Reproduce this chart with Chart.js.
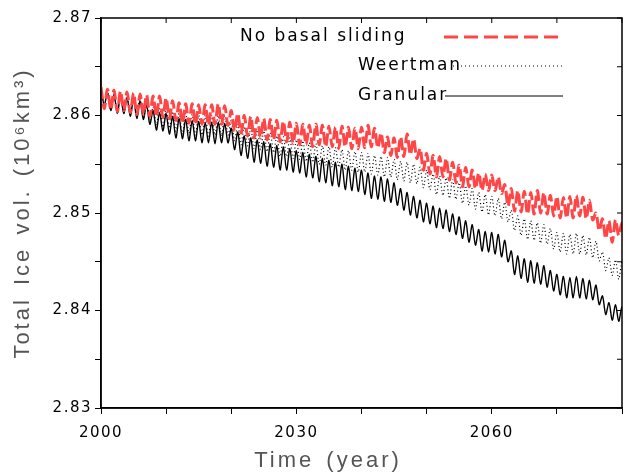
<!DOCTYPE html>
<html>
<head>
<meta charset="utf-8">
<script src="https://cdn.jsdelivr.net/npm/chart.js@4"></script>
<style>
  html, body { margin: 0; padding: 0; background: #fff; }
  #wrap { width: 626px; height: 476px; position: relative; }
</style>
</head>
<body>
<div id="wrap"><canvas id="grafico"></canvas></div>
<script>
// años 2000..2080, un ciclo anual: máximo (pico) y mínimo (valle)
const firstYear = 2000;
const xTickLabels = [2000, 2030, 2060];
const seriesNames = ['No basal sliding', 'Weertman', 'Granular'];
const xTitle = 'Time (year)';
const yTitle = 'Total Ice vol. (10⁶km³)';

const granularPeak = [
  2.8628, 2.8623, 2.8621, 2.8620, 2.8618, 2.8617, 2.8615, 2.8611, 2.8605, 2.8603,
  2.8602, 2.8599, 2.8597, 2.8596, 2.8595, 2.8594, 2.8593, 2.8593, 2.8593, 2.8592,
  2.8587, 2.8583, 2.8579, 2.8577, 2.8575, 2.8573, 2.8571, 2.8569, 2.8568, 2.8566,
  2.8564, 2.8562, 2.8560, 2.8558, 2.8556, 2.8554, 2.8552, 2.8550, 2.8548, 2.8546,
  2.8544, 2.8541, 2.8538, 2.8537, 2.8535, 2.8531, 2.8525, 2.8521, 2.8517, 2.8513,
  2.8510, 2.8507, 2.8505, 2.8503, 2.8499, 2.8496, 2.8492, 2.8488, 2.8483, 2.8481,
  2.8480, 2.8478, 2.8472, 2.8461, 2.8456, 2.8453, 2.8451, 2.8449, 2.8446, 2.8441,
  2.8437, 2.8435, 2.8434, 2.8435, 2.8433, 2.8431, 2.8426, 2.8415, 2.8408, 2.8406,
  2.8404
];
const granularTrough = [
  2.8611, 2.8605, 2.8602, 2.8602, 2.8599, 2.8597, 2.8596, 2.8591, 2.8585, 2.8584,
  2.8581, 2.8577, 2.8576, 2.8574, 2.8574, 2.8572, 2.8572, 2.8571, 2.8572, 2.8572,
  2.8565, 2.8559, 2.8556, 2.8552, 2.8551, 2.8548, 2.8547, 2.8544, 2.8544, 2.8542,
  2.8541, 2.8537, 2.8536, 2.8532, 2.8531, 2.8528, 2.8527, 2.8524, 2.8523, 2.8522,
  2.8519, 2.8515, 2.8514, 2.8512, 2.8511, 2.8508, 2.8503, 2.8498, 2.8495, 2.8491,
  2.8489, 2.8485, 2.8484, 2.8481, 2.8478, 2.8474, 2.8470, 2.8467, 2.8461, 2.8460,
  2.8458, 2.8455, 2.8450, 2.8437, 2.8433, 2.8429, 2.8428, 2.8427, 2.8424, 2.8420,
  2.8416, 2.8413, 2.8413, 2.8413, 2.8412, 2.8411, 2.8406, 2.8396, 2.8390, 2.8389,
  2.8390
];

const weertmanPeak = [
  2.8628, 2.8624, 2.8622, 2.8622, 2.8621, 2.8620, 2.8618, 2.8614, 2.8609, 2.8607,
  2.8607, 2.8604, 2.8602, 2.8602, 2.8601, 2.8600, 2.8600, 2.8600, 2.8600, 2.8600,
  2.8595, 2.8591, 2.8589, 2.8587, 2.8585, 2.8584, 2.8582, 2.8579, 2.8578, 2.8577,
  2.8575, 2.8574, 2.8572, 2.8571, 2.8569, 2.8568, 2.8567, 2.8565, 2.8564, 2.8563,
  2.8562, 2.8561, 2.8559, 2.8558, 2.8557, 2.8555, 2.8553, 2.8552, 2.8550, 2.8547,
  2.8544, 2.8540, 2.8538, 2.8536, 2.8534, 2.8531, 2.8528, 2.8525, 2.8521, 2.8519,
  2.8517, 2.8515, 2.8511, 2.8503, 2.8497, 2.8494, 2.8492, 2.8490, 2.8488, 2.8484,
  2.8480, 2.8479, 2.8478, 2.8479, 2.8477, 2.8475, 2.8471, 2.8460, 2.8454, 2.8452,
  2.8450
];
const weertmanTrough = [
  2.8611, 2.8606, 2.8604, 2.8603, 2.8602, 2.8601, 2.8599, 2.8595, 2.8590, 2.8588,
  2.8587, 2.8584, 2.8581, 2.8582, 2.8580, 2.8580, 2.8579, 2.8580, 2.8579, 2.8580,
  2.8574, 2.8570, 2.8569, 2.8566, 2.8565, 2.8563, 2.8562, 2.8558, 2.8558, 2.8556,
  2.8555, 2.8553, 2.8552, 2.8550, 2.8549, 2.8547, 2.8547, 2.8544, 2.8544, 2.8542,
  2.8542, 2.8540, 2.8539, 2.8537, 2.8537, 2.8534, 2.8533, 2.8531, 2.8530, 2.8526,
  2.8524, 2.8519, 2.8518, 2.8515, 2.8514, 2.8510, 2.8508, 2.8504, 2.8501, 2.8498,
  2.8497, 2.8494, 2.8491, 2.8482, 2.8477, 2.8473, 2.8472, 2.8469, 2.8468, 2.8463,
  2.8460, 2.8458, 2.8458, 2.8458, 2.8457, 2.8454, 2.8451, 2.8441, 2.8436, 2.8432,
  2.8434
];

const noSlidePeak = [
  2.8629, 2.8627, 2.8626, 2.8625, 2.8624, 2.8623, 2.8622, 2.8621, 2.8620, 2.8620,
  2.8618, 2.8615, 2.8613, 2.8612, 2.8612, 2.8611, 2.8611, 2.8611, 2.8612, 2.8610,
  2.8605, 2.8602, 2.8600, 2.8599, 2.8598, 2.8597, 2.8596, 2.8595, 2.8594, 2.8593,
  2.8592, 2.8591, 2.8590, 2.8591, 2.8590, 2.8589, 2.8588, 2.8589, 2.8588, 2.8587,
  2.8588, 2.8590, 2.8587, 2.8582, 2.8578, 2.8577, 2.8578, 2.8581, 2.8576, 2.8566,
  2.8561, 2.8559, 2.8558, 2.8556, 2.8552, 2.8549, 2.8547, 2.8544, 2.8541, 2.8540,
  2.8539, 2.8537, 2.8529, 2.8525, 2.8523, 2.8522, 2.8521, 2.8523, 2.8521, 2.8518,
  2.8517, 2.8516, 2.8517, 2.8518, 2.8516, 2.8513, 2.8500, 2.8494, 2.8492, 2.8493,
  2.8490
];
const noSlideTrough = [
  2.8607, 2.8606, 2.8604, 2.8605, 2.8603, 2.8601, 2.8601, 2.8599, 2.8599, 2.8598,
  2.8597, 2.8595, 2.8592, 2.8592, 2.8591, 2.8591, 2.8590, 2.8591, 2.8591, 2.8590,
  2.8584, 2.8582, 2.8579, 2.8577, 2.8577, 2.8575, 2.8575, 2.8573, 2.8573, 2.8571,
  2.8570, 2.8570, 2.8568, 2.8570, 2.8568, 2.8568, 2.8566, 2.8568, 2.8566, 2.8566,
  2.8567, 2.8568, 2.8567, 2.8562, 2.8559, 2.8557, 2.8558, 2.8560, 2.8556, 2.8544,
  2.8540, 2.8537, 2.8537, 2.8534, 2.8531, 2.8527, 2.8527, 2.8525, 2.8523, 2.8523,
  2.8523, 2.8520, 2.8507, 2.8502, 2.8501, 2.8499, 2.8499, 2.8500, 2.8499, 2.8497,
  2.8495, 2.8495, 2.8495, 2.8497, 2.8494, 2.8493, 2.8482, 2.8474, 2.8470, 2.8477,
  2.8478
];

// pico al inicio del año, valle a mitad de año
function armarSerie(picos, valles) {
  const puntos = [];
  for (let i = 0; i < picos.length; i++) {
    puntos.push({ x: firstYear + i, y: picos[i] });
    puntos.push({ x: firstYear + i + 0.5, y: valles[i] });
  }
  return puntos;
}

const FUENTE = 'DejaVu Sans';
const FUENTE_TIT = 'Liberation Sans';
const ROJO = '#ff4545';

// marco, marcas interiores, títulos de ejes y leyenda dentro del gráfico
const extras = {
  id: 'extras',
  beforeDraw(chart) {
    chart.ctx.letterSpacing = '1.5px';
  },
  afterDraw(chart) {
    const ctx = chart.ctx;
    const a = chart.chartArea;
    const ys = chart.scales.y;
    const xs = chart.scales.x;
    ctx.save();
    ctx.strokeStyle = '#000';
    ctx.lineWidth = 1.5;
    ctx.strokeRect(a.left, a.top, a.right - a.left, a.bottom - a.top);
    ctx.lineWidth = 1;
    ctx.beginPath();
    ys.ticks.forEach(t => {
      const py = ys.getPixelForValue(t.value);
      ctx.moveTo(a.right, py);
      ctx.lineTo(a.right - 5, py);
    });
    xs.ticks.forEach(t => {
      const px = xs.getPixelForValue(t.value);
      ctx.moveTo(px, a.top);
      ctx.lineTo(px, a.top + 5);
    });
    ctx.stroke();

    // títulos de ejes
    ctx.fillStyle = '#555';
    ctx.textAlign = 'center';
    ctx.textBaseline = 'middle';
    ctx.letterSpacing = '3px';
    ctx.wordSpacing = '3px';
    ctx.font = '22px "' + FUENTE_TIT + '"';
    ctx.fillText(xTitle, 328, 461);
    ctx.save();
    ctx.translate(23, (a.top + a.bottom) / 2);
    ctx.rotate(-Math.PI / 2);
    ctx.font = '22px "' + FUENTE_TIT + '"';
    ctx.fillText(yTitle, 0, 0);
    ctx.restore();
    ctx.wordSpacing = '0px';

    // leyenda
    ctx.letterSpacing = '2px';
    ctx.font = '17px "' + FUENTE + '"';
    ctx.fillStyle = '#000';
    ctx.textAlign = 'left';
    const filas = [
      { t: seriesNames[0], tx: 240, y: 37, x0: 444, col: ROJO, w: 3, dash: [14, 6] },
      { t: seriesNames[1], tx: 358, y: 66, x0: 453, col: '#000', w: 1, dash: [1, 3] },
      { t: seriesNames[2], tx: 358, y: 96, x0: 445, col: '#000', w: 1, dash: [] }
    ];
    filas.forEach(f => {
      ctx.fillText(f.t, f.tx, f.y);
      ctx.beginPath();
      ctx.strokeStyle = f.col;
      ctx.lineWidth = f.w;
      ctx.setLineDash(f.dash);
      ctx.moveTo(f.x0, f.y);
      ctx.lineTo(563, f.y);
      ctx.stroke();
    });
    ctx.restore();
    ctx.letterSpacing = '0px';
  }
};

const ctx = document.getElementById('grafico').getContext('2d');
new Chart(ctx, {
  type: 'line',
  data: {
    datasets: [
      {
        label: seriesNames[0],
        data: armarSerie(noSlidePeak, noSlideTrough),
        borderColor: ROJO,
        borderWidth: 3,
        borderDash: [12, 4],
        pointRadius: 0,
        tension: 0.3,
        order: 0
      },
      {
        label: seriesNames[1],
        data: armarSerie(weertmanPeak, weertmanTrough),
        borderColor: '#000',
        borderWidth: 1.2,
        borderDash: [1, 2.5],
        pointRadius: 0,
        tension: 0.3,
        order: 1
      },
      {
        label: seriesNames[2],
        data: armarSerie(granularPeak, granularTrough),
        borderColor: '#000',
        borderWidth: 1.4,
        pointRadius: 0,
        tension: 0.3,
        order: 2
      }
    ]
  },
  options: {
    responsive: true,
    maintainAspectRatio: false,
    animation: false,
    layout: { padding: { top: 18, right: 4, left: 0, bottom: 0 } },
    plugins: { legend: { display: false }, tooltip: { enabled: false } },
    scales: {
      x: {
        type: 'linear',
        min: 2000,
        max: 2080,
        afterFit: s => { s.height = 68; s.paddingRight = 0; s.paddingLeft = 0; },
        border: { display: true, color: '#000', width: 1.5 },
        grid: { drawOnChartArea: false, drawTicks: true, tickLength: 6, color: '#000' },
        ticks: {
          stepSize: 10,
          autoSkip: false,
          maxRotation: 0,
          padding: 10,
          color: '#000',
          font: { family: FUENTE, size: 15 },
          callback: v => xTickLabels.includes(v) ? String(v) : ''
        }
      },
      y: {
        min: 2.83,
        max: 2.87,
        afterFit: s => { s.width = 101; },
        border: { display: true, color: '#000', width: 1.5 },
        grid: { drawOnChartArea: false, drawTicks: true, tickLength: 6, color: '#000' },
        ticks: {
          stepSize: 0.005,
          autoSkip: false,
          padding: 3,
          color: '#000',
          font: { family: FUENTE, size: 15 },
          callback: v => Math.abs(v * 100 - Math.round(v * 100)) < 1e-6 ? v.toFixed(2) : ''
        }
      }
    }
  },
  plugins: [extras]
});
</script>
</body>
</html>
